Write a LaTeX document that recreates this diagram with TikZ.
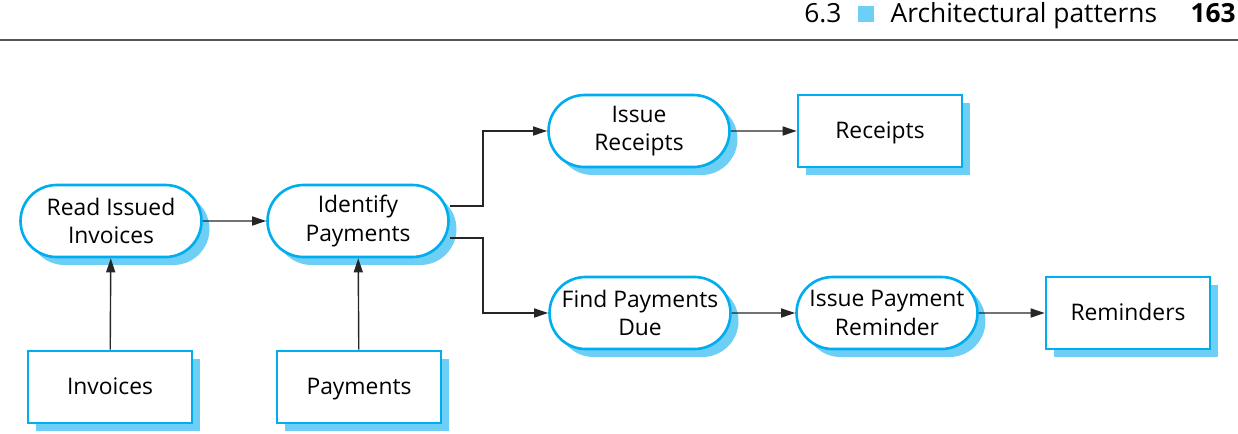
\documentclass[tikz,border=0pt]{standalone}
\usepackage{fontspec}
\setmainfont{Open Sans}
\usetikzlibrary{arrows.meta,shapes.misc,shadows}
\definecolor{edgeblue}{HTML}{00AEEF}
\definecolor{shadeblue}{HTML}{6DCFF6}
\definecolor{rulegray}{HTML}{555555}
\begin{document}
\begin{tikzpicture}[x=0.02cm, y=-0.02cm,
    proc/.style={rounded rectangle, draw=edgeblue, line width=1.5pt, fill=white,
      minimum width=3.62cm, minimum height=1.44cm, inner sep=0pt, align=center,
      font=\fontsize{13}{16}\selectfont,
      general shadow={shadow xshift=0.16cm, shadow yshift=-0.16cm, fill=shadeblue}},
    store/.style={rectangle, draw=edgeblue, line width=1.5pt, fill=white,
      minimum width=3.28cm, minimum height=1.44cm, inner sep=0pt, align=center,
      text height=1.6ex, text depth=0.1ex, font=\fontsize{13}{16}\selectfont,
      general shadow={shadow xshift=0.16cm, shadow yshift=-0.16cm, fill=shadeblue}},
    flow/.style={-{Triangle[length=2.8mm,width=1.8mm]}, line width=0.8pt, draw=black!85}]
  \useasboundingbox (0,0) rectangle (1238,433);

  % running head
  \node[anchor=base east, inner sep=0pt, font=\fontsize{15}{18}\selectfont] (head) at (1236,22)
    {6.3\hspace{9.5pt}{\color{shadeblue}\rule{9pt}{9pt}}\hspace{9.5pt}Architectural patterns\hspace{19pt}\textbf{163}};
  \draw[rulegray, line width=1.3pt] (0,40) -- (1238,40);

  % processing steps
  \node[proc] (read) at (111,221) {Read Issued\\Invoices};
  \node[proc] (ident) at (358,221) {Identify\\Payments};
  \node[proc] (issrec) at (639,131) {Issue\\Receipts};
  \node[proc] (find) at (640,313) {Find Payments\\Due};
  \node[proc] (issrem) at (887,313) {Issue Payment\\Reminder};

  % data stores
  \node[store] (inv) at (110,387) {Invoices};
  \node[store] (pay) at (359,387) {Payments};
  \node[store] (rec) at (880,131) {Receipts};
  \node[store] (rem) at (1128,313) {Reminders};

  % flows
  \draw[flow] (read) -- (ident);
  \draw[flow] (inv) -- (read);
  \draw[flow] (pay) -- (ident);
  \draw[flow] (ident.east) ++(0,-15) -| (483,131) -- (issrec);
  \draw[flow] (ident.east) ++(0,17) -| (483,313) -- (find);
  \draw[flow] (issrec) -- (rec);
  \draw[flow] (find) -- (issrem);
  \draw[flow] (issrem) -- (rem);
\end{tikzpicture}
\end{document}
